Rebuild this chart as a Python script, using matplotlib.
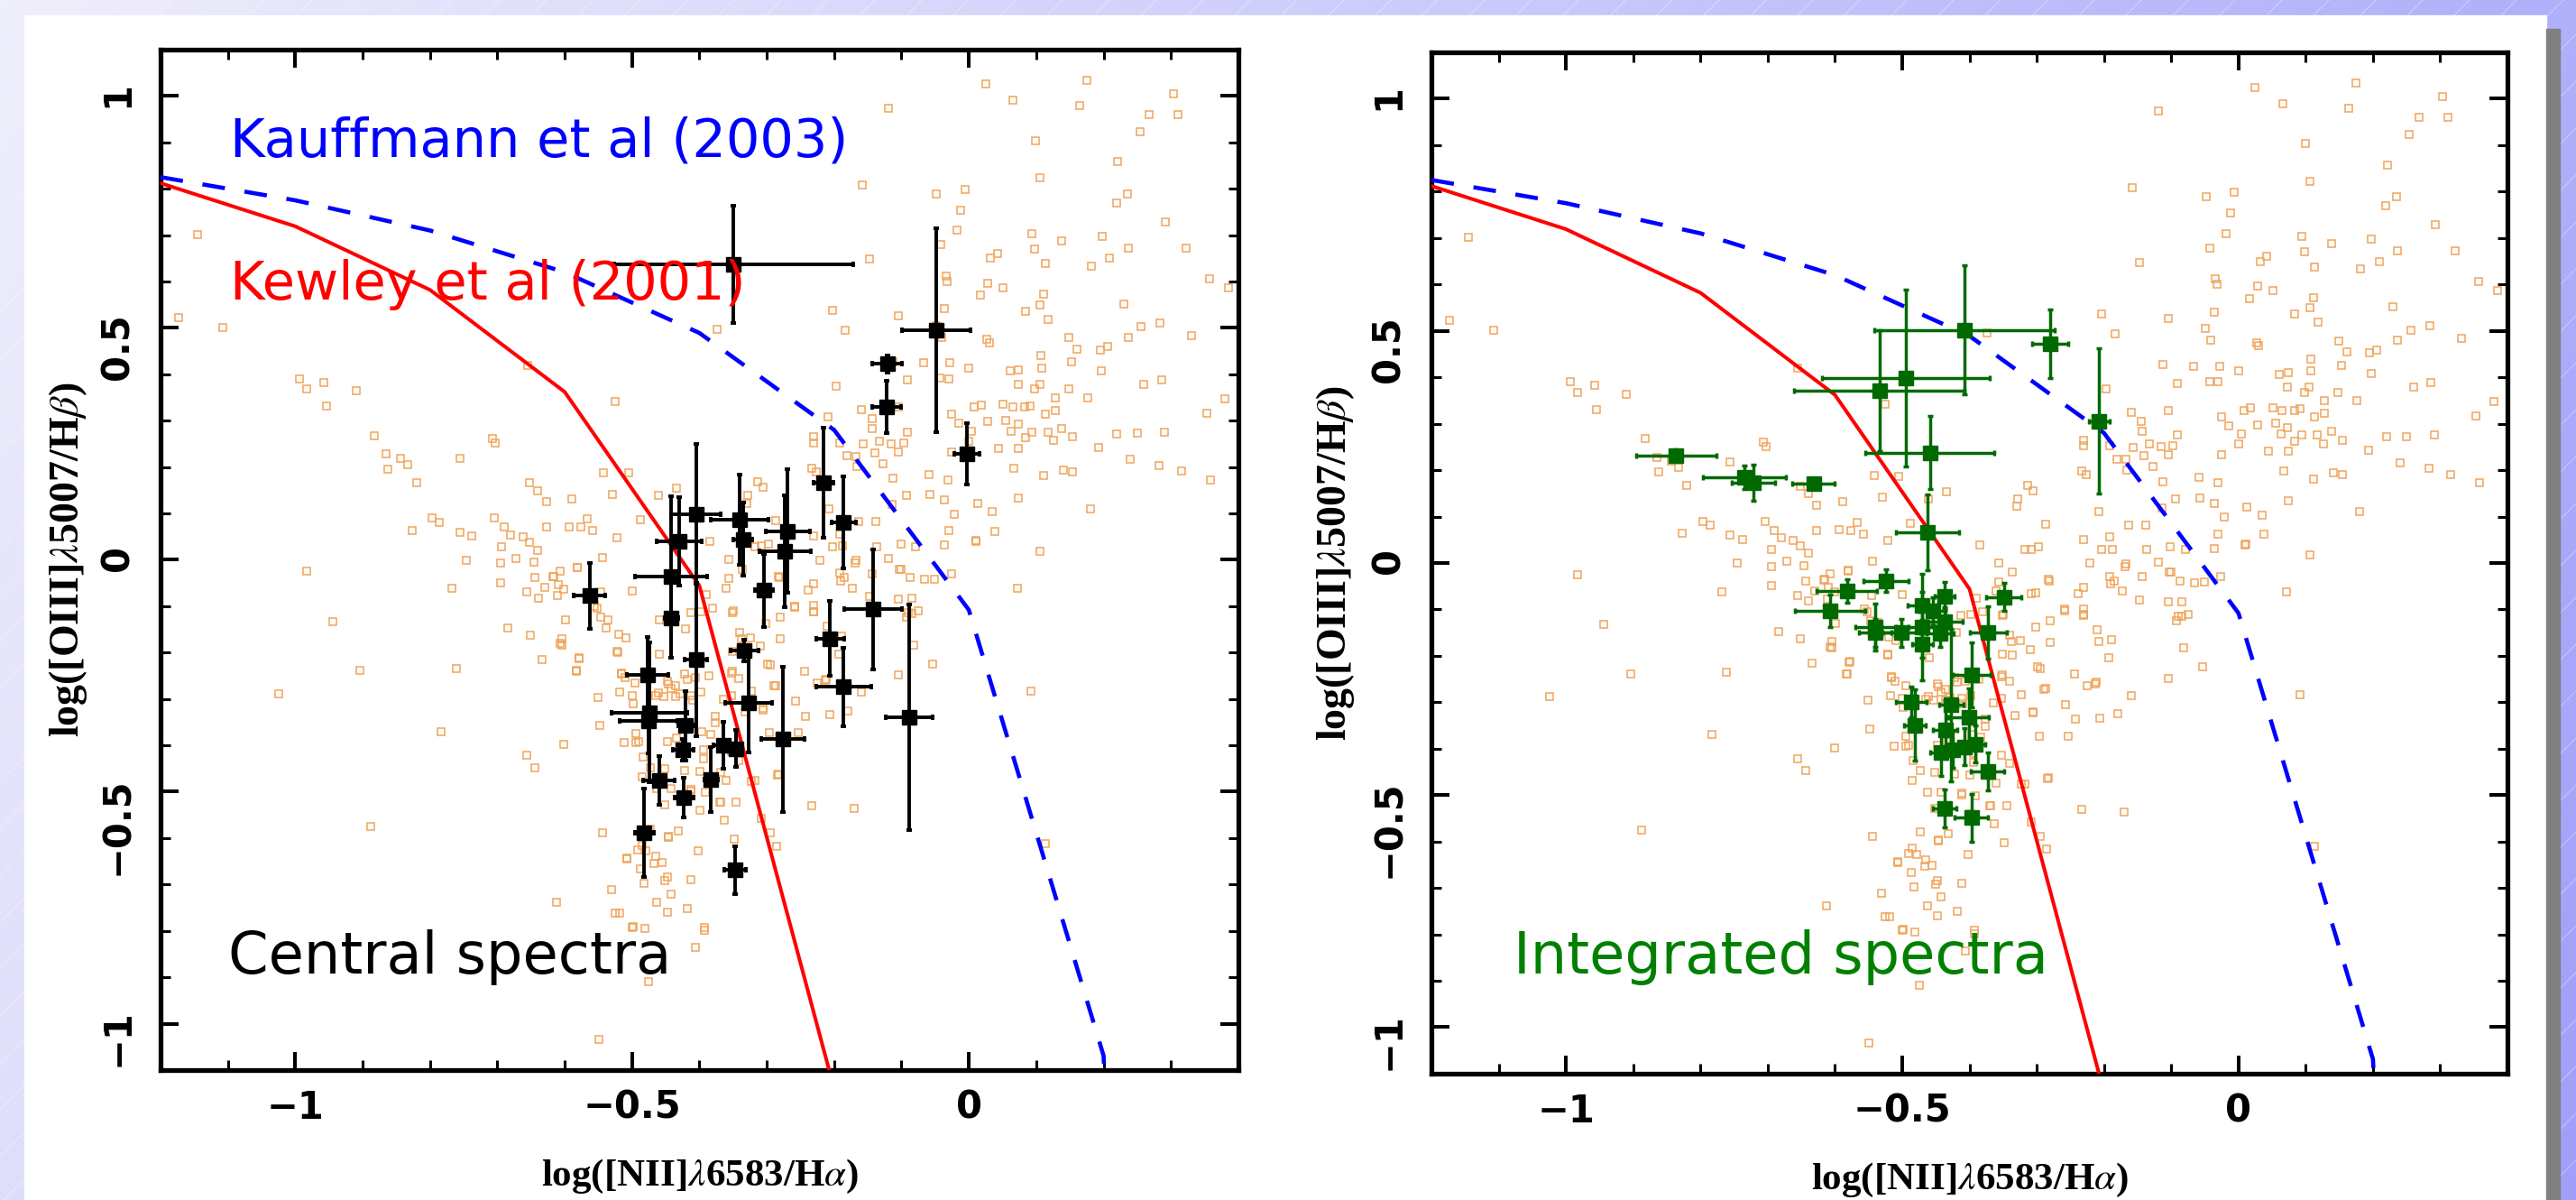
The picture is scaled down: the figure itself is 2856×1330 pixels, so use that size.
import numpy as np
import matplotlib
matplotlib.use('Agg')
import matplotlib.pyplot as plt
from matplotlib.patches import Rectangle
from matplotlib.ticker import MultipleLocator, FuncFormatter

# demarcation curves (sampled every 0.2 dex, as drawn)
kauff_x = [-1.2, -1.0, -0.8, -0.6, -0.4, -0.2]
kauff_y = [0.812, 0.719, 0.582, 0.362, -0.056, -1.140]
kewley_x = [-1.2, -1.0, -0.8, -0.6, -0.4, -0.2, 0.0, 0.2, 0.4]
kewley_y = [0.825, 0.775, 0.710, 0.620, 0.489, 0.280, -0.108, -1.069, -7.52]

# central spectra (black)
central_x = [-0.349, -0.048, -0.121, -0.122, -0.003, -0.216, -0.186, -0.405, -0.405, -0.340,
             -0.335, -0.269, -0.273, -0.430, -0.442, -0.442, -0.563, -0.304, -0.142, -0.206,
             -0.333, -0.089, -0.276, -0.186, -0.327, -0.477, -0.474, -0.476, -0.420, -0.424,
             -0.460, -0.423, -0.383, -0.365, -0.346, -0.482, -0.347]
central_y = [0.637, 0.495, 0.422, 0.330, 0.229, 0.166, 0.080, 0.099, -0.215, 0.086,
             0.044, 0.062, 0.018, 0.040, -0.037, -0.125, -0.077, -0.066, -0.107, -0.170,
             -0.196, -0.339, -0.387, -0.274, -0.309, -0.249, -0.329, -0.347, -0.358, -0.409,
             -0.476, -0.512, -0.473, -0.400, -0.407, -0.588, -0.669]
central_xerr = [0.178, 0.051, 0.022, 0.022, 0.019, 0.015, 0.018, 0.037, 0.017, 0.043,
                0.014, 0.033, 0.038, 0.033, 0.054, 0.010, 0.023, 0.013, 0.043, 0.021,
                0.021, 0.035, 0.032, 0.041, 0.035, 0.031, 0.056, 0.043, 0.012, 0.015,
                0.023, 0.014, 0.010, 0.014, 0.010, 0.014, 0.016]
central_yerr = [0.127, 0.220, 0.018, 0.056, 0.066, 0.119, 0.099, 0.151, 0.166, 0.097,
                0.079, 0.133, 0.120, 0.095, 0.174, 0.086, 0.071, 0.079, 0.129, 0.081,
                0.023, 0.243, 0.156, 0.085, 0.107, 0.082, 0.150, 0.070, 0.075, 0.023,
                0.053, 0.043, 0.070, 0.051, 0.040, 0.095, 0.051]

# integrated spectra (green)
integ_x = [-0.407, -0.280, -0.495, -0.534, -0.459, -0.207, -0.836, -0.735, -0.721, -0.632,
           -0.462, -0.524, -0.582, -0.607, -0.540, -0.540, -0.501, -0.470, -0.455, -0.437,
           -0.437, -0.444, -0.470, -0.470, -0.372, -0.349, -0.397, -0.427, -0.487, -0.481,
           -0.401, -0.436, -0.442, -0.425, -0.407, -0.392, -0.373, -0.437, -0.397]
integ_y = [0.502, 0.473, 0.398, 0.371, 0.238, 0.306, 0.232, 0.185, 0.173, 0.171,
           0.066, -0.038, -0.061, -0.103, -0.138, -0.150, -0.150, -0.092, -0.104, -0.071,
           -0.126, -0.151, -0.138, -0.175, -0.150, -0.073, -0.241, -0.306, -0.300, -0.349,
           -0.333, -0.359, -0.408, -0.402, -0.396, -0.390, -0.449, -0.529, -0.549]
integ_xerr = [0.134, 0.027, 0.125, 0.127, 0.096, 0.015, 0.060, 0.062, 0.032, 0.032,
              0.047, 0.034, 0.045, 0.052, 0.030, 0.024, 0.028, 0.022, 0.020, 0.015,
              0.027, 0.020, 0.020, 0.015, 0.028, 0.026, 0.028, 0.018, 0.023, 0.016,
              0.030, 0.018, 0.016, 0.020, 0.020, 0.015, 0.025, 0.018, 0.025]
integ_yerr = [0.139, 0.074, 0.190, 0.131, 0.079, 0.156, 0.012, 0.025, 0.038, 0.012,
              0.081, 0.025, 0.025, 0.035, 0.051, 0.030, 0.030, 0.030, 0.030, 0.030,
              0.030, 0.030, 0.115, 0.030, 0.057, 0.031, 0.070, 0.165, 0.033, 0.076,
              0.063, 0.063, 0.050, 0.040, 0.040, 0.040, 0.040, 0.041, 0.052]

# comparison galaxy sample (orange open squares), same in both panels
sdss_x = [
    0.025, 0.175, -0.119, 0.066, 0.164, 0.304, 0.268, 0.311, 0.254, 0.099, 0.221, 0.106, -0.158,
    -0.048, -0.006, 0.235, 0.219, -0.012, 0.292, -0.018, 0.094, 0.198, -0.042, 0.138, 0.322, 0.237,
    0.209, 0.098, 0.042, 0.032, -0.147, 0.113, 0.182, -0.034, -0.032, 0.357, 0.385, 0.028, 0.051,
    0.017, 0.111, 0.106, 0.230, 0.084, 0.118, -0.036, -0.203, -0.105, 0.284, 0.256, -0.049, 0.027,
    0.030, 0.149, 0.237, 0.331, -0.183, -0.041, 0.195, 0.206, 0.161, 0.107, -0.113, -0.028, -0.067,
    0.000, 0.153, 0.197, 0.061, 0.074, 0.108, -0.043, -0.030, -0.091, 0.286, 0.260, 0.073, 0.105,
    0.148, 0.098, -0.197, 0.128, 0.176, 0.380, 0.353, -0.159, -0.104, -0.025, 0.008, 0.018, 0.051,
    0.065, 0.083, 0.091, 0.128, 0.113, -0.015, 0.028, 0.004, 0.055, 0.073, 0.094, 0.117, 0.138,
    0.063, 0.220, 0.250, 0.291, -0.143, -0.091, -0.133, -0.097, -0.157, -0.115, -0.025, 0.074,
    0.044, 0.126, 0.154, 0.000, 0.084, 0.193, -0.230, -0.231, -0.192, -0.168, -0.140, -0.104,
    -0.127, -0.181, 0.240, 0.283, 0.316, 0.358, 0.067, 0.141, 0.154, 0.111, -0.233, -0.226,
    -0.059, -0.031, -0.113, -0.166, -0.093, -0.058, -0.036, -0.021, 0.013, 0.035, 0.074, 0.180,
    -0.114, -0.208, -0.164, -0.138, -0.313, -0.306, -0.328, -0.330, -0.287, -0.230, -0.191, -0.203,
    -0.188, -0.137, -0.101, -0.079, -0.036, -0.030, 0.011, 0.038, 0.106, -0.221, -0.169, -0.143,
    -0.103, -0.087, -0.066, -0.051, -0.026, 0.072, -0.192, -0.185, -0.147, -0.084, -0.090, -0.075,
    -0.231, -0.230, -0.259, -0.190, -0.301, -0.308, -0.317, -0.282, -0.336, -0.357, -0.209, -0.144,
    -1.145, -1.173, -1.108, -0.994, -0.983, -0.958, -0.954, -0.910, -0.882, -0.707, -0.703, -0.756,
    -0.865, -0.844, -0.833, -0.862, -0.820, -0.655, -0.542, -0.525, -0.505, -0.640, -0.652, -0.627,
    -0.589, -0.529, -0.434, -0.461, -0.797, -0.786, -0.827, -0.756, -0.738, -0.704, -0.690, -0.680,
    -0.662, -0.652, -0.694, -0.640, -0.672, -0.695, -0.646, -0.746, -0.627, -0.594, -0.576, -0.567,
    -0.558, -0.522, -0.544, -0.983, -0.768, -0.944, -0.644, -0.616, -0.581, -0.656, -0.639, -0.611,
    -0.695, -0.684, -0.374, -0.488, -0.385,
    -0.904, -1.024, -0.783, -0.761, -0.888, -0.651, -0.607, -0.579, -0.634, -0.583, -0.656, -0.644,
    -0.601, -0.546, -0.552, -0.536, -0.522, -0.509, -0.516, -0.495, -0.551, -0.548, -0.512, -0.494,
    -0.473, -0.485, -0.463, -0.446, -0.442, -0.461, -0.436, -0.412, -0.353, -0.351, -0.336, -0.338,
    -0.308, -0.360, -0.390, -0.381, -0.351, -0.324, -0.302, -0.280, -0.299, -0.287, -0.323, -0.353,
    -0.332, -0.305, -0.257, -0.243, -0.296, -0.253, -0.353, -0.341, -0.323, -0.284, -0.369, -0.345,
    -0.412, -0.348, -0.402, -0.286, -0.369, -0.544, -0.473, -0.446, -0.485, -0.479, -0.507, -0.467,
    -0.487, -0.448, -0.412, -0.531, -0.442, -0.463, -0.612, -0.525, -0.519, -0.448, -0.500, -0.481,
    -0.418, -0.393, -0.393, -0.406, -0.475, -0.549, -0.233, -0.170, -0.210, -0.208, -0.189, -0.193,
    -0.159, -0.225, -0.213, -0.244, -0.180, -0.206, -0.105, -0.054, -0.082, -0.084, -0.092, -0.104,
    -0.173, -0.119, -0.100, 0.010, 0.092, 0.113, -0.231, -0.298, -0.167,
    -0.604, -0.604, -0.578, -0.582, -0.498, -0.451, -0.295, -0.308, -0.370, -0.363, -0.399, -0.360,
    -0.317, -0.283, -0.306, -0.289, -0.212, -0.295, -0.309, -0.386, -0.351, -0.341, -0.364, -0.376,
    -0.376, -0.383, -0.397, -0.394, -0.394, -0.399, -0.422, -0.412, -0.452, -0.442, -0.452, -0.446,
    -0.432, -0.465, -0.456, -0.491, -0.507, -0.482, -0.494, -0.490, -0.498, -0.500, -0.518, -0.516,
    -0.511, -0.521, -0.520, -0.460, -0.465, -0.453, -0.448, -0.436, -0.429, -0.448, -0.434, -0.484,
    -0.422, -0.418, -0.406, -0.398, -0.410, -0.391,
    -0.617, -0.607, -0.610, -0.601, -0.630, -0.581, -0.556, -0.547, -0.599, -0.538, -0.500, -0.459,
    -0.420, -0.413, -0.398, -0.350, -0.357, -0.340, -0.280, -0.258, -0.230, -0.239, -0.283]
sdss_y = [
    1.025, 1.033, 0.973, 0.990, 0.980, 1.004, 0.960, 0.960, 0.923, 0.904, 0.858, 0.823, 0.809,
    0.789, 0.799, 0.789, 0.769, 0.754, 0.728, 0.710, 0.704, 0.697, 0.679, 0.687, 0.672, 0.672,
    0.650, 0.670, 0.660, 0.650, 0.648, 0.638, 0.633, 0.612, 0.600, 0.606, 0.587, 0.596, 0.587,
    0.570, 0.572, 0.549, 0.551, 0.536, 0.518, 0.541, 0.537, 0.526, 0.511, 0.502, 0.505, 0.475,
    0.468, 0.479, 0.480, 0.483, 0.494, 0.480, 0.453, 0.459, 0.455, 0.440, 0.427, 0.424, 0.424,
    0.414, 0.426, 0.408, 0.407, 0.410, 0.414, 0.391, 0.390, 0.387, 0.388, 0.379, 0.379, 0.379,
    0.368, 0.368, 0.375, 0.349, 0.349, 0.348, 0.316, 0.324, 0.329, 0.314, 0.329, 0.334, 0.335,
    0.329, 0.329, 0.332, 0.322, 0.314, 0.295, 0.298, 0.277, 0.301, 0.292, 0.275, 0.276, 0.283,
    0.278, 0.272, 0.273, 0.275, 0.283, 0.275, 0.256, 0.252, 0.249, 0.250, 0.233, 0.240,
    0.240, 0.257, 0.265, 0.256, 0.263, 0.242, 0.265, 0.252, 0.252, 0.223, 0.231, 0.233,
    0.207, 0.224, 0.216, 0.204, 0.191, 0.172, 0.198, 0.194, 0.190, 0.181, 0.198, 0.190,
    0.184, 0.172, 0.175, 0.201, 0.138, 0.140, 0.129, 0.099, 0.121, 0.103, 0.134, 0.110,
    0.119, 0.110, 0.082, 0.082, 0.168, 0.156, 0.138, 0.122, 0.084, 0.051, 0.056, 0.029,
    0.030, 0.029, 0.034, 0.029, 0.032, 0.063, 0.041, 0.062, 0.018, -0.001, -0.007, -0.030,
    -0.020, -0.038, -0.042, -0.041, -0.030, -0.062, -0.029, -0.039, -0.079, -0.083, -0.114, -0.110,
    -0.052, -0.112, -0.103, -0.045, -0.064, 0.030, 0.029, -0.038, -0.020, 0.000, 0.309, 0.305,
    0.702, 0.522, 0.501, 0.390, 0.368, 0.383, 0.331, 0.364, 0.268, 0.261, 0.251, 0.218,
    0.228, 0.219, 0.205, 0.196, 0.167, 0.420, 0.188, 0.342, 0.187, 0.149, 0.166, 0.125,
    0.132, 0.141, 0.154, 0.138, 0.090, 0.081, 0.064, 0.060, 0.051, 0.090, 0.070, 0.054,
    0.049, 0.037, 0.029, 0.021, 0.003, -0.007, -0.005, -0.001, 0.070, 0.071, 0.070, 0.088,
    0.063, 0.048, 0.004, -0.025, -0.062, -0.133, -0.039, -0.036, -0.017, -0.070, -0.082, -0.077,
    -0.049, -0.147, 0.496, 0.086, 0.039,
    -0.239, -0.288, -0.370, -0.235, -0.575, -0.163, -0.181, -0.213, -0.215, -0.240, -0.421, -0.448,
    -0.398, -0.070, -0.105, -0.129, -0.197, -0.168, -0.247, -0.265, -0.296, -0.358, -0.394, -0.394,
    -0.448, -0.468, -0.494, -0.267, -0.278, -0.287, -0.295, -0.292, -0.244, -0.197, -0.199, -0.170,
    -0.066, -0.061, -0.075, -0.105, -0.113, -0.168, -0.138, -0.171, -0.224, -0.271, -0.283, -0.292,
    -0.328, -0.323, -0.305, -0.337, -0.373, -0.373, -0.414, -0.432, -0.477, -0.464, -0.523, -0.523,
    -0.500, -0.602, -0.628, -0.617, -0.459, -0.588, -0.580, -0.597, -0.615, -0.627, -0.645, -0.654,
    -0.666, -0.684, -0.690, -0.711, -0.720, -0.738, -0.738, -0.762, -0.762, -0.760, -0.792, -0.794,
    -0.751, -0.792, -0.799, -0.835, -0.910, -1.034, -0.530, -0.536, -0.144, -0.170, -0.165, -0.204,
    -0.285, -0.265, -0.260, -0.240, -0.325, -0.334, -0.249, -0.224, -0.183, -0.115, -0.124, -0.084,
    -0.061, 0.002, -0.020, 0.039, -0.283, -0.611, -0.099, 0.034, -0.002,
    -0.170, -0.183, -0.212, -0.239, -0.790, -0.692, -0.588, -0.557, -0.523, -0.561, -0.540, -0.475,
    -0.476, -0.462, -0.321, -0.272, -0.257, -0.227, -0.186, -0.250, -0.241, -0.255, -0.301, -0.337,
    -0.351, -0.376, -0.370, -0.410, -0.429, -0.457, -0.454, -0.496, -0.451, -0.494, -0.529, -0.598,
    -0.584, -0.639, -0.652, -0.625, -0.643, -0.698, -0.374, -0.392, -0.311, -0.292, -0.285, -0.244,
    -0.254, -0.199, -0.160, -0.204, -0.293, -0.295, -0.261, -0.272, -0.289, -0.392, -0.384, -0.425,
    -0.246, -0.257, -0.254, -0.285, -0.303, -0.501,
    -0.037, -0.024, -0.053, -0.063, -0.060, -0.016, -0.100, -0.124, -0.130, -0.147, -0.068, -0.129,
    -0.149, -0.113, -0.111, -0.110, -0.040, -0.156, -0.124, -0.100, -0.111, -0.066, -0.036]

ORANGE = '#f0a45a'
GREEN = '#006a00'

plt.rcParams['mathtext.fontset'] = 'stix'

fig = plt.figure(figsize=(28.56, 13.30), dpi=100)

# slide-like backdrop: lavender gradient, white sheet and grey shadow
bg = fig.add_axes([0, 0, 1, 1], zorder=-10)
gx, gy = np.meshgrid(np.linspace(0, 1, 300), np.linspace(0, 1, 140))
t = np.clip(0.8 * gx + 0.2 * gy, 0, 1)[..., None]
light = np.array([238, 238, 252]) / 255
dark = np.array([160, 160, 250]) / 255
bg.imshow(light + (dark - light) * t, extent=[0, 2856, 1330, 0], aspect='auto')
for k in range(-1400, 2900, 52):
    bg.plot([k, k + 1330], [1330, 0], color='white', alpha=0.35, lw=0.8)
bg.add_patch(Rectangle((27, 17), 2796, 1313, color='white', zorder=3))
bg.add_patch(Rectangle((2823, 32), 15, 1298, color='#808080', zorder=3))
bg.set_xlim(0, 2856)
bg.set_ylim(1330, 0)
bg.axis('off')

ax1 = fig.add_axes([0.0623, 0.1083, 0.4184, 0.8504])
ax2 = fig.add_axes([0.5557, 0.1053, 0.4177, 0.8511])

minus = FuncFormatter(lambda v, p: ('%g' % v).replace('-', '\u2212'))

for ax in (ax1, ax2):
    ax.plot(sdss_x, sdss_y, 's', mfc='none', mec=ORANGE, ms=5.6, mew=1.1, zorder=2)
    ax.plot(kauff_x, kauff_y, color='red', lw=2.9, zorder=3)
    ax.plot(kewley_x, kewley_y, color='blue', lw=3.3, ls=(0, (5.5, 4.8)), zorder=3)
    ax.set_xlim(-1.2, 0.4)
    ax.set_ylim(-1.1, 1.1)
    ax.xaxis.set_major_locator(MultipleLocator(0.5))
    ax.xaxis.set_minor_locator(MultipleLocator(0.1))
    ax.yaxis.set_major_locator(MultipleLocator(0.5))
    ax.yaxis.set_minor_locator(MultipleLocator(0.1))
    ax.xaxis.set_major_formatter(minus)
    ax.yaxis.set_major_formatter(minus)
    ax.tick_params(which='both', direction='in', top=True, right=True)
    ax.tick_params(which='major', length=14.5, width=2.9)
    ax.tick_params(which='minor', length=8, width=2.2)
    ax.tick_params(axis='x', pad=15, labelsize=30)
    ax.tick_params(axis='y', pad=19, labelsize=30, labelrotation=90)
    for lab in ax.get_xticklabels() + ax.get_yticklabels():
        lab.set_fontweight('bold')
    for s in ax.spines.values():
        s.set_linewidth(3.8)
    ax.set_xlabel(r'log([NII]$\lambda$6583/H$\alpha$)', fontsize=31,
                  family='Liberation Serif', fontweight='bold')
    ax.set_ylabel(r'log([OIII]$\lambda$5007/H$\beta$)', fontsize=33,
                  family='Liberation Serif', fontweight='bold')
    ax.xaxis.set_label_coords(0.5, -0.086)

ax1.yaxis.set_label_coords(-0.066, 0.5)
ax2.yaxis.set_label_coords(-0.070, 0.5)

ax1.errorbar(central_x, central_y, xerr=central_xerr, yerr=central_yerr, fmt='s',
             color='black', ms=12, elinewidth=2.8, capsize=2.5, capthick=2.8, zorder=5)
ax2.errorbar(integ_x, integ_y, xerr=integ_xerr, yerr=integ_yerr, fmt='s',
             color=GREEN, ms=12, elinewidth=2.5, capsize=2.5, capthick=2.5, zorder=5)

ax1.text(-1.097, 0.870, 'Kauffmann et al (2003)', color='blue', fontsize=42.5, zorder=8)
ax1.text(-1.097, 0.561, 'Kewley et al (2001)', color='red', fontsize=42.5, zorder=8)
ax1.text(-1.100, -0.892, 'Central spectra', color='black', fontsize=46, zorder=8)
ax2.text(-1.078, -0.884, 'Integrated spectra', color='#008000', fontsize=46, zorder=8)

fig.savefig('out.png', dpi=100)
